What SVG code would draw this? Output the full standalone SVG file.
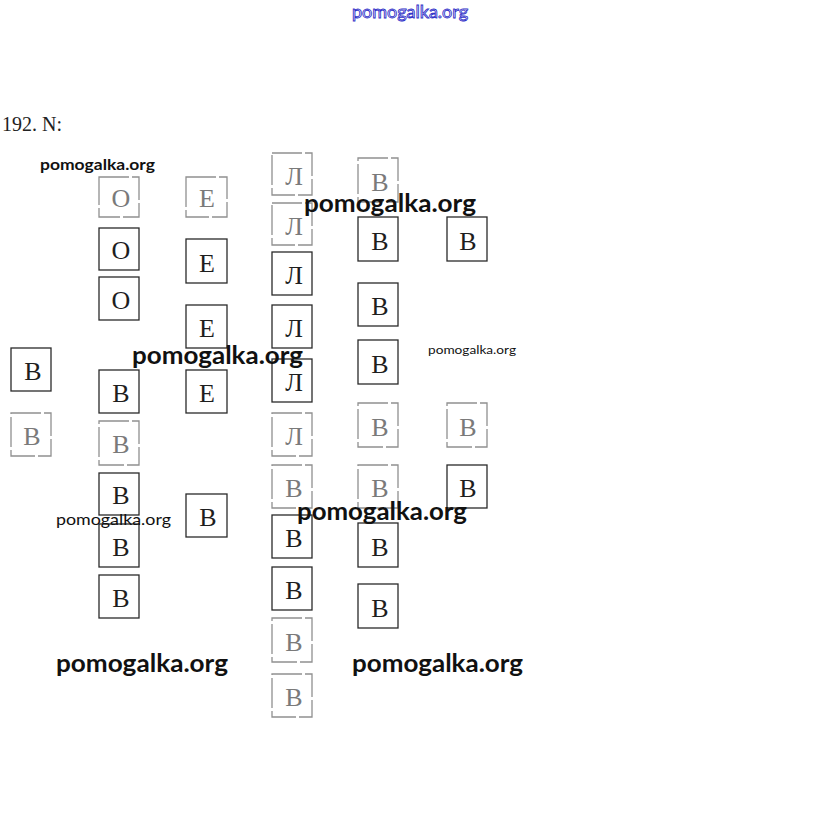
<svg xmlns="http://www.w3.org/2000/svg" width="818" height="833" viewBox="0 0 818 833">
<style>
.bx rect{fill:#fff;stroke:#2a2a2a;stroke-width:1.3}
.bx text{font-family:"Liberation Serif",serif;font-size:26px;text-anchor:middle;fill:#1e1e1e}
.bx.f rect{stroke:#909090;stroke-dasharray:30 3}
.bx.f text{fill:#7a7a7a}
.wm{font-family:Lato,"Open Sans",sans-serif;font-weight:bold;fill:#111}
.title{font-family:"Liberation Serif",serif;font-size:20px;fill:#222}
</style>
<rect width="818" height="833" fill="#fff"/>
<text x="410" y="18" text-anchor="middle" style="font-family:Lato,sans-serif;font-size:18px;fill:#fff;stroke:#3030c8;stroke-width:0.9" textLength="116" lengthAdjust="spacingAndGlyphs">pomogalka.org</text>
<text class="title" x="2" y="131">192. N:</text>

<g id="col0">
<g id="c0r1" class="bx"><rect x="11" y="348" width="40" height="43"/><text x="33" y="380">В</text></g>
<g id="c0r2" class="bx f"><rect x="11" y="413" width="40" height="43"/><text x="32" y="445">В</text></g>
</g>
<g id="col1">
<g id="c1r1" class="bx f"><rect x="99" y="177" width="40" height="40"/><text x="121" y="207">О</text></g>
<g id="c1r2" class="bx"><rect x="99" y="228" width="40" height="42"/><text x="121" y="259">О</text></g>
<g id="c1r3" class="bx"><rect x="99" y="277" width="40" height="43"/><text x="121" y="309">О</text></g>
<g id="c1r4" class="bx"><rect x="99" y="370" width="40" height="43"/><text x="121" y="402">В</text></g>
<g id="c1r5" class="bx f"><rect x="99" y="421" width="40" height="44"/><text x="121" y="453">В</text></g>
<g id="c1r6" class="bx"><rect x="99" y="473" width="40" height="42"/><text x="121" y="504">В</text></g>
<g id="c1r7" class="bx"><rect x="99" y="524" width="40" height="43"/><text x="121" y="556">В</text></g>
<g id="c1r8" class="bx"><rect x="99" y="575" width="40" height="43"/><text x="121" y="607">В</text></g>
</g>
<g id="col2">
<g id="c2r1" class="bx f"><rect x="186" y="177" width="41" height="40"/><text x="207" y="207">Е</text></g>
<g id="c2r2" class="bx"><rect x="186" y="239" width="41" height="44"/><text x="207" y="272">Е</text></g>
<g id="c2r3" class="bx"><rect x="186" y="305" width="41" height="43"/><text x="207" y="337">Е</text></g>
<g id="c2r4" class="bx"><rect x="186" y="370" width="41" height="43"/><text x="207" y="402">Е</text></g>
<g id="c2r5" class="bx"><rect x="186" y="494" width="41" height="43"/><text x="208" y="526">В</text></g>
</g>
<g id="col3">
<g id="c3r1" class="bx f"><rect x="272" y="153" width="40" height="42"/><text x="294" y="185">Л</text></g>
<g id="c3r2" class="bx f"><rect x="272" y="203" width="40" height="42"/><text x="294" y="235">Л</text></g>
<g id="c3r3" class="bx"><rect x="272" y="252" width="40" height="43"/><text x="294" y="284">Л</text></g>
<g id="c3r4" class="bx"><rect x="272" y="305" width="40" height="43"/><text x="294" y="337">Л</text></g>
<g id="c3r5" class="bx"><rect x="272" y="359" width="40" height="43"/><text x="294" y="391">Л</text></g>
<g id="c3r6" class="bx f"><rect x="272" y="413" width="40" height="43"/><text x="294" y="445">Л</text></g>
<g id="c3r7" class="bx f"><rect x="272" y="465" width="40" height="43"/><text x="294" y="497">В</text></g>
<g id="c3r8" class="bx"><rect x="272" y="515" width="40" height="43"/><text x="294" y="547">В</text></g>
<g id="c3r9" class="bx"><rect x="272" y="567" width="40" height="43"/><text x="294" y="599">В</text></g>
<g id="c3r10" class="bx f"><rect x="272" y="618" width="40" height="44"/><text x="294" y="651">В</text></g>
<g id="c3r11" class="bx f"><rect x="272" y="674" width="40" height="43"/><text x="294" y="706">В</text></g>
</g>
<g id="col4">
<g id="c4r1" class="bx f"><rect x="358" y="158" width="40" height="44"/><text x="380" y="191">В</text></g>
<g id="c4r2" class="bx"><rect x="358" y="217" width="40" height="44"/><text x="380" y="250">В</text></g>
<g id="c4r3" class="bx"><rect x="358" y="283" width="40" height="43"/><text x="380" y="315">В</text></g>
<g id="c4r4" class="bx"><rect x="358" y="340" width="40" height="44"/><text x="380" y="373">В</text></g>
<g id="c4r5" class="bx f"><rect x="358" y="403" width="40" height="44"/><text x="380" y="436">В</text></g>
<g id="c4r6" class="bx f"><rect x="358" y="465" width="40" height="43"/><text x="380" y="497">В</text></g>
<g id="c4r7" class="bx"><rect x="358" y="523" width="40" height="44"/><text x="380" y="556">В</text></g>
<g id="c4r8" class="bx"><rect x="358" y="584" width="40" height="44"/><text x="380" y="617">В</text></g>
</g>
<g id="col5">
<g id="c5r1" class="bx"><rect x="447" y="217" width="40" height="44"/><text x="468" y="250">В</text></g>
<g id="c5r2" class="bx f"><rect x="447" y="403" width="40" height="44"/><text x="468" y="436">В</text></g>
<g id="c5r3" class="bx"><rect x="447" y="465" width="40" height="43"/><text x="468" y="497">В</text></g>
</g>

<g id="watermarks">
<text class="wm" x="40" y="170" font-size="16" textLength="115" lengthAdjust="spacingAndGlyphs">pomogalka.org</text>
<text class="wm" x="304" y="212" font-size="24" textLength="172" lengthAdjust="spacingAndGlyphs">pomogalka.org</text>
<text class="wm" x="132" y="364" font-size="24" textLength="171" lengthAdjust="spacingAndGlyphs">pomogalka.org</text>
<text class="wm" x="428" y="354" font-size="12" textLength="88" lengthAdjust="spacingAndGlyphs" style="font-weight:normal">pomogalka.org</text>
<text class="wm" x="56" y="525" font-size="15" textLength="115" lengthAdjust="spacingAndGlyphs" style="font-weight:normal">pomogalka.org</text>
<text class="wm" x="297" y="520" font-size="24" textLength="170" lengthAdjust="spacingAndGlyphs">pomogalka.org</text>
<text class="wm" x="56" y="672" font-size="24" textLength="172" lengthAdjust="spacingAndGlyphs">pomogalka.org</text>
<text class="wm" x="352" y="672" font-size="24" textLength="171" lengthAdjust="spacingAndGlyphs">pomogalka.org</text>
</g>
</svg>
